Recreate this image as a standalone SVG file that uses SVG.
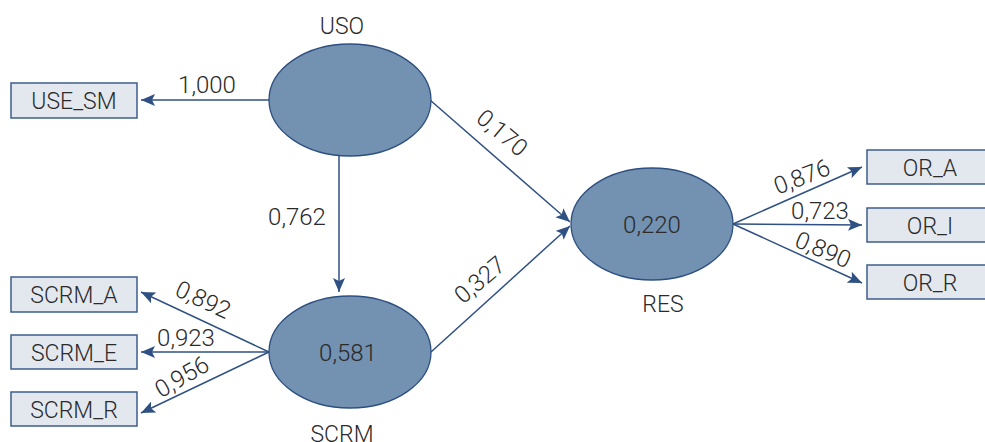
<svg xmlns="http://www.w3.org/2000/svg" width="985" height="442" viewBox="0 0 985 442">
<defs>
<style>
.lv{fill:#7391b0;stroke:#2d4f80;stroke-width:1.3}
.ind{fill:#e3e8ef;stroke:#3d5d8c;stroke-width:1.5}
.t{font-family:Roboto,"Liberation Sans",sans-serif;font-weight:300;font-size:23px;fill:#2a2a2a;text-anchor:middle}
.n{font-size:24px}
.c{fill:none;stroke:#2f5083;stroke-width:1.5;marker-end:url(#ah)}
</style>
<marker id="ah" markerUnits="userSpaceOnUse" markerWidth="16" markerHeight="12" refX="14" refY="6" orient="auto">
<path d="M0,0 L14,6 L0,12 L3,6 z" fill="#2f5083"/>
</marker>
</defs>
<g id="connectors">
<path class="c" d="M269,100 L141,100"/>
<path class="c" d="M339,156 L339,292"/>
<path class="c" d="M269,352 L141,292"/>
<path class="c" d="M269,352 L141,352"/>
<path class="c" d="M269,352 L141,413"/>
<path class="c" d="M430,100 L570,222"/>
<path class="c" d="M431,352 L570,226"/>
<path class="c" d="M733,224 L862,167"/>
<path class="c" d="M733,224 L862,225"/>
<path class="c" d="M733,224 L862,283"/>
<text class="t n" x="207" y="93">1,000</text>
<text class="t n" x="297" y="225">0,762</text>
<text class="t n" transform="translate(502,133) rotate(40)" y="8">0,170</text>
<text class="t n" transform="translate(480,280) rotate(-40)" y="8">0,327</text>
<text class="t n" transform="translate(203,300) rotate(25)" y="8">0,892</text>
<text class="t n" x="186" y="346">0,923</text>
<text class="t n" transform="translate(182,377) rotate(-30)" y="8">0,956</text>
<text class="t n" transform="translate(802,177) rotate(-21)" y="8">0,876</text>
<text class="t n" x="820" y="219">0,723</text>
<text class="t n" transform="translate(823,250) rotate(23)" y="8">0,890</text>
</g>
<g id="USO">
<ellipse class="lv" cx="350" cy="100" rx="81" ry="56"/>
<text class="t" x="342" y="34">USO</text>
</g>
<g id="SCRM">
<ellipse class="lv" cx="350" cy="352" rx="81" ry="56"/>
<text class="t n" x="348" y="361">0,581</text>
<text class="t" x="342" y="442">SCRM</text>
</g>
<g id="RES">
<ellipse class="lv" cx="652" cy="224" rx="81" ry="56"/>
<text class="t n" x="652" y="233">0,220</text>
<text class="t" x="663" y="312">RES</text>
</g>
<g id="USE_SM">
<rect class="ind" x="11" y="83" width="126" height="35"/>
<text class="t" x="74" y="109">USE_SM</text>
</g>
<g id="SCRM_A">
<rect class="ind" x="11" y="277" width="126" height="35"/>
<text class="t" x="74" y="303">SCRM_A</text>
</g>
<g id="SCRM_E">
<rect class="ind" x="11" y="335" width="126" height="34"/>
<text class="t" x="74" y="361">SCRM_E</text>
</g>
<g id="SCRM_R">
<rect class="ind" x="11" y="392" width="126" height="34"/>
<text class="t" x="74" y="418">SCRM_R</text>
</g>
<g id="OR_A">
<rect class="ind" x="867" y="150" width="126" height="34"/>
<text class="t" x="930" y="176">OR_A</text>
</g>
<g id="OR_I">
<rect class="ind" x="867" y="208" width="126" height="34"/>
<text class="t" x="930" y="234">OR_I</text>
</g>
<g id="OR_R">
<rect class="ind" x="867" y="265" width="126" height="34"/>
<text class="t" x="930" y="291">OR_R</text>
</g>
</svg>
